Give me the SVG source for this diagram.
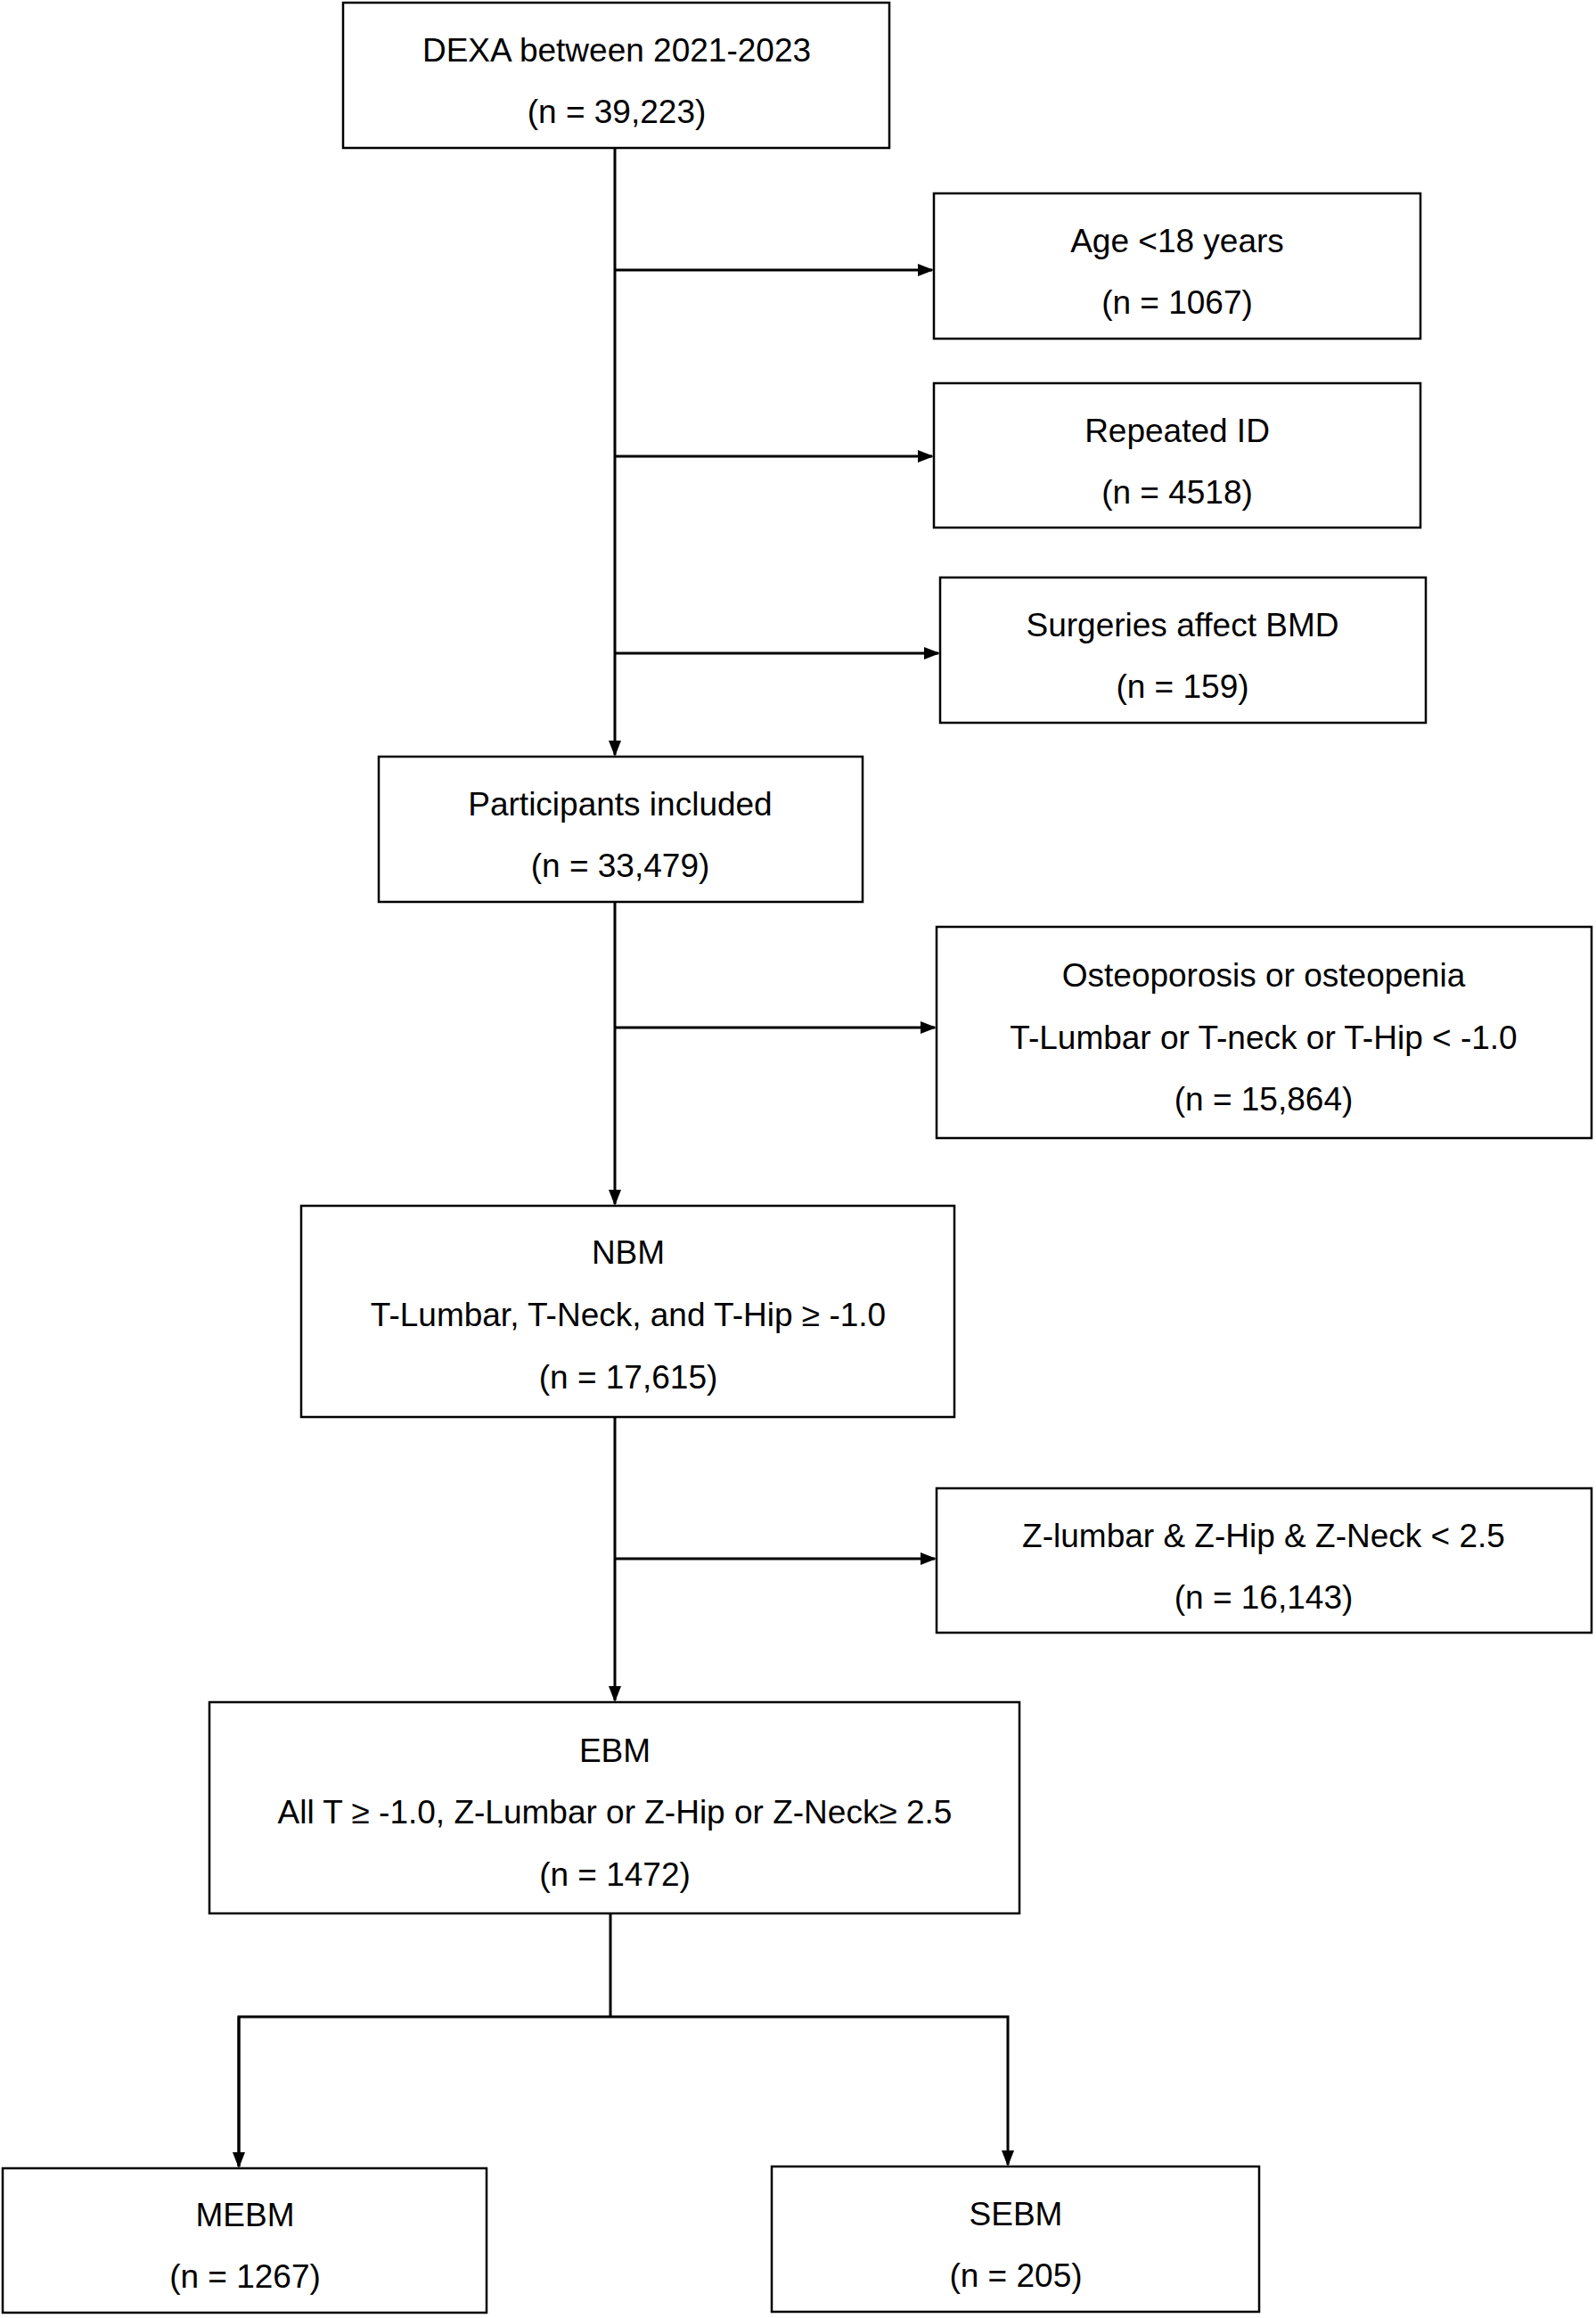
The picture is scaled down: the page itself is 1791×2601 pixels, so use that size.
<svg xmlns="http://www.w3.org/2000/svg" width="1791" height="2601" viewBox="0 0 1791 2601">
<defs>
<style>
rect{fill:#fff;stroke:#000;stroke-width:2.5}
text{font-family:"Liberation Sans","DejaVu Sans",sans-serif;font-size:37px;text-anchor:middle;fill:#000}
.c{stroke:#000;stroke-width:3;fill:none}
</style>
<marker id="a" markerWidth="10" markerHeight="10" refX="9" refY="5" orient="auto" markerUnits="userSpaceOnUse" viewBox="0 0 10 10"><path d="M0,0 L10,5 L0,10z" fill="#000"/></marker>
<marker id="b" markerWidth="18" markerHeight="18" refX="16" refY="9" orient="auto" markerUnits="userSpaceOnUse" viewBox="0 0 18 18"><path d="M0,2 L18,9 L0,16z" fill="#000"/></marker>
</defs>
<g id="connectors">
<path class="c" d="M690,166V847" marker-end="url(#b)"/>
<path class="c" d="M690,303H1046" marker-end="url(#b)"/>
<path class="c" d="M690,512H1046" marker-end="url(#b)"/>
<path class="c" d="M690,733H1053" marker-end="url(#b)"/>
<path class="c" d="M690,1012V1351" marker-end="url(#b)"/>
<path class="c" d="M690,1153H1049" marker-end="url(#b)"/>
<path class="c" d="M690,1590V1908" marker-end="url(#b)"/>
<path class="c" d="M690,1749H1049" marker-end="url(#b)"/>
<path class="c" d="M685,2147V2263"/>
<path class="c" d="M268,2431V2263H1131V2429" marker-end="url(#b)"/>
<path class="c" d="M268,2263V2431" marker-end="url(#b)"/>
</g>
<g id="n1"><rect x="385" y="3" width="613" height="163"/><text x="692" y="69">DEXA between 2021-2023</text><text x="692" y="138">(n = 39,223)</text></g>
<g id="n2"><rect x="1048" y="217" width="546" height="163"/><text x="1321" y="283">Age &lt;18 years</text><text x="1321" y="352">(n = 1067)</text></g>
<g id="n3"><rect x="1048" y="430" width="546" height="162"/><text x="1321" y="496">Repeated ID</text><text x="1321" y="565">(n = 4518)</text></g>
<g id="n4"><rect x="1055" y="648" width="545" height="163"/><text x="1327" y="714">Surgeries affect BMD</text><text x="1327" y="783">(n = 159)</text></g>
<g id="n5"><rect x="425" y="849" width="543" height="163"/><text x="696" y="915">Participants included</text><text x="696" y="984">(n = 33,479)</text></g>
<g id="n6"><rect x="1051" y="1040" width="735" height="237"/><text x="1418" y="1107">Osteoporosis or osteopenia</text><text x="1418" y="1177">T-Lumbar or T-neck or T-Hip &lt; -1.0</text><text x="1418" y="1246">(n = 15,864)</text></g>
<g id="n7"><rect x="338" y="1353" width="733" height="237"/><text x="705" y="1418">NBM</text><text x="705" y="1488">T-Lumbar, T-Neck, and T-Hip ≥ -1.0</text><text x="705" y="1558">(n = 17,615)</text></g>
<g id="n8"><rect x="1051" y="1670" width="735" height="162"/><text x="1418" y="1736">Z-lumbar &amp; Z-Hip &amp; Z-Neck &lt; 2.5</text><text x="1418" y="1805">(n = 16,143)</text></g>
<g id="n9"><rect x="235" y="1910" width="909" height="237"/><text x="690" y="1977">EBM</text><text x="690" y="2046">All T ≥ -1.0, Z-Lumbar or Z-Hip or Z-Neck≥ 2.5</text><text x="690" y="2116">(n = 1472)</text></g>
<g id="n10"><rect x="3" y="2433" width="543" height="162"/><text x="275" y="2498">MEBM</text><text x="275" y="2567">(n = 1267)</text></g>
<g id="n11"><rect x="866" y="2431" width="547" height="163"/><text x="1140" y="2497">SEBM</text><text x="1140" y="2566">(n = 205)</text></g>
</svg>
